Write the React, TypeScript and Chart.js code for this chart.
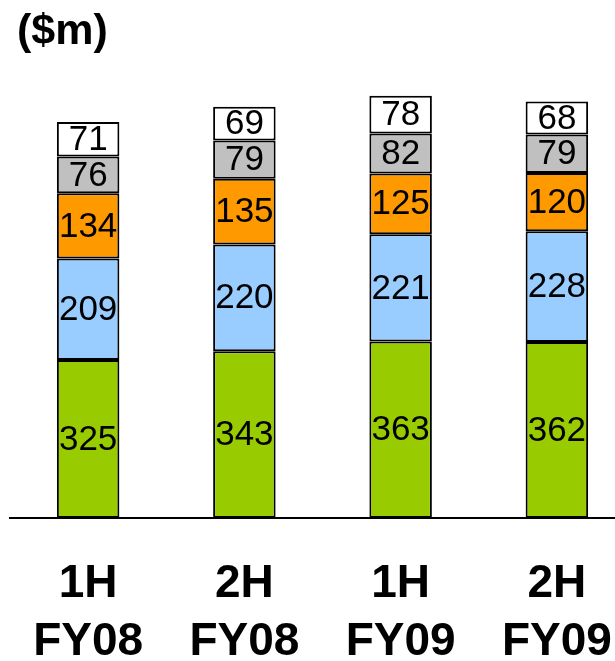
import React, { useEffect, useRef } from "react";
import { Chart, registerables } from "chart.js";

Chart.register(...registerables);

const categories: string[][] = [
  ["1H", "FY08"],
  ["2H", "FY08"],
  ["1H", "FY09"],
  ["2H", "FY09"],
];
const greenValues = [325, 343, 363, 362];
const blueValues = [209, 220, 221, 228];
const orangeValues = [134, 135, 125, 120];
const grayValues = [76, 79, 82, 79];
const whiteValues = [71, 69, 78, 68];
const unitLabel = "($m)";

const FONT = "'Liberation Sans', Arial, Helvetica, sans-serif";

const labelPlugin = {
  id: "segLabels",
  afterDatasetsDraw(chart: any) {
    const ctx = chart.ctx;
    ctx.save();
    ctx.font = `35px ${FONT}`;
    ctx.fillStyle = "#000";
    ctx.textAlign = "center";
    ctx.textBaseline = "middle";
    chart.data.datasets.forEach((ds: any, di: number) => {
      const meta = chart.getDatasetMeta(di);
      meta.data.forEach((el: any, i: number) => {
        const p = el.getProps(["x", "y", "base"], true);
        ctx.fillText(String(ds.data[i]), p.x, (p.y + p.base) / 2 + 1);
      });
    });
    ctx.restore();
  },
  afterDraw(chart: any) {
    const ctx = chart.ctx;
    ctx.save();
    ctx.font = `bold 43px ${FONT}`;
    ctx.fillStyle = "#000";
    ctx.textAlign = "left";
    ctx.textBaseline = "top";
    ctx.fillText(unitLabel, 17, 11);
    ctx.restore();
  },
};

export default function App() {
  const ref = useRef<HTMLCanvasElement | null>(null);
  useEffect(() => {
    document.body.style.margin = "0";
    const mk = (label: string, data: number[], color: string) => ({
      label,
      data,
      backgroundColor: color,
      borderColor: "#000",
      borderWidth: 2,
      borderSkipped: false,
      categoryPercentage: 1,
      barPercentage: 0.4,
    });
    const chart = new Chart(ref.current!, {
      type: "bar",
      data: {
        labels: categories,
        datasets: [
          mk("A", greenValues, "#99CC00"),
          mk("B", blueValues, "#99CCFF"),
          mk("C", orangeValues, "#FF9900"),
          mk("D", grayValues, "#C0C0C0"),
          mk("E", whiteValues, "#FFFFFF"),
        ],
      },
      options: {
        animation: false,
        responsive: false,
        layout: { padding: { left: 10, right: 0, top: 32, bottom: 0 } },
        plugins: { legend: { display: false }, tooltip: { enabled: false } },
        scales: {
          x: {
            stacked: true,
            grid: {
              display: true,
              drawOnChartArea: false,
              drawTicks: true,
              tickLength: 34,
              color: "rgba(0,0,0,0)",
            },
            border: { display: true, color: "#000", width: 2 },
            afterFit: (s: any) => {
              s.height = 143;
            },
            ticks: {
              color: "#000",
              maxRotation: 0,
              autoSkip: false,
              padding: 3,
              font: { family: FONT, size: 46, weight: "bold", lineHeight: 1.27 },
            },
          },
          y: {
            stacked: true,
            display: false,
            min: 0,
            max: 1000,
          },
        },
      },
      plugins: [labelPlugin],
    });
    return () => chart.destroy();
  }, []);
  return (
    <div style={{ width: 615, height: 661, overflow: "hidden", position: "relative" }}>
      <canvas
        ref={ref}
        width={635}
        height={661}
        style={{ display: "block", width: 635, height: 661 }}
      />
    </div>
  );
}
